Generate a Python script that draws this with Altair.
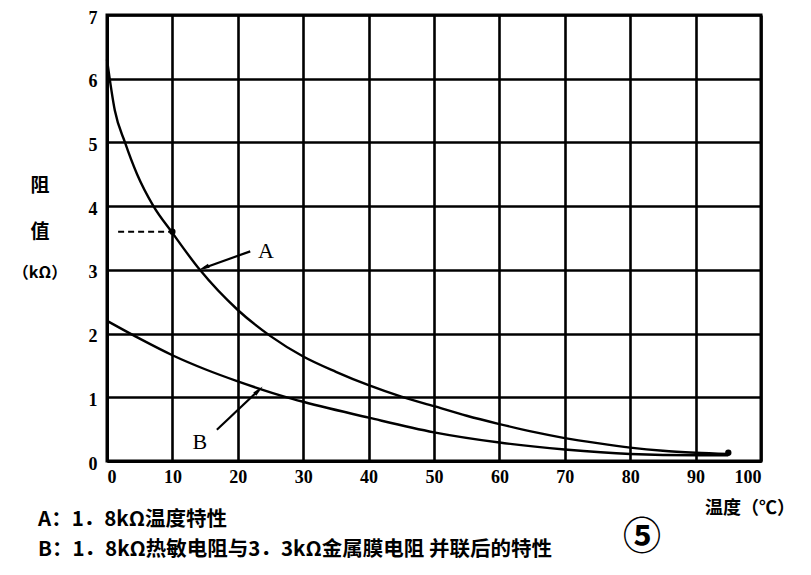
import altair as alt
import pandas as pd

# Curve A: 1.8kΩ thermistor
temp_a = [0, 1.2, 2.75, 4.6, 7.1, 10, 14.2, 20, 25, 30, 35, 40, 45, 50, 55, 60, 65, 70, 75, 80, 85, 90, 95]
res_a = [6.3, 5.5, 5.0, 4.5, 4.0, 3.58, 3.0, 2.37, 1.96, 1.64, 1.4, 1.19, 1.01, 0.86, 0.71, 0.58, 0.46, 0.36, 0.28, 0.21, 0.16, 0.13, 0.11]
# Curve B: thermistor in parallel with 3.3kΩ
temp_b = [0, 5, 10, 15, 20, 27.5, 30, 40, 50, 60, 70, 80, 90, 95]
res_b = [2.2, 1.92, 1.66, 1.44, 1.25, 1.0, 0.93, 0.68, 0.45, 0.29, 0.18, 0.11, 0.09, 0.09]

x_ticks = [0, 10, 20, 30, 40, 50, 60, 70, 80, 90, 100]
y_ticks = [0, 1, 2, 3, 4, 5, 6, 7]

# annotations
dash_x = [1.7, 10]
dash_y = [3.6, 3.6]
dot_x = [10, 95]
dot_y = [3.6, 0.13]
arrow_names = ["A", "B"]
arrow_x = [21.9, 16.8]
arrow_y = [3.29, 0.49]
arrow_x2 = [14.8, 23.2]
arrow_y2 = [3.03, 1.11]
arrow_angle = [247, 46]
label_x = [24.3, 14.2]
label_y = [3.3, 0.3]

W, H = 654, 446
serif = "Liberation Serif"
cjk = "Noto Sans CJK SC"

curves = pd.DataFrame({
    "t": temp_a + temp_b,
    "r": res_a + res_b,
    "s": ["A"] * len(temp_a) + ["B"] * len(temp_b),
})

xs = alt.Scale(domain=[0, 100], nice=False)
ys = alt.Scale(domain=[0, 7], nice=False)

axis_x = alt.Axis(values=x_ticks, title=None, ticks=False, grid=True, gridColor="black",
                  gridWidth=2.6, gridOpacity=1, domainColor="black", domainWidth=3,
                  labelFont=serif, labelFontSize=18, labelFontWeight="bold", labelColor="black",
                  labelPadding=7, format="d")
axis_y = alt.Axis(values=y_ticks, title=None, ticks=False, grid=True, gridColor="black",
                  gridWidth=2.6, gridOpacity=1, domainColor="black", domainWidth=3,
                  labelFont=serif, labelFontSize=18, labelFontWeight="bold", labelColor="black",
                  labelPadding=10, labelOffset=3, format="d")

lines = alt.Chart(curves).mark_line(color="black", strokeWidth=2.4, interpolate="monotone").encode(
    x=alt.X("t:Q", scale=xs, axis=axis_x),
    y=alt.Y("r:Q", scale=ys, axis=axis_y),
    detail="s:N",
)

dash = alt.Chart(pd.DataFrame({"x": dash_x, "y": dash_y})).mark_line(
    color="black", strokeWidth=2, strokeDash=[6, 4]).encode(
    x=alt.X("x:Q", scale=xs), y=alt.Y("y:Q", scale=ys))

dots = alt.Chart(pd.DataFrame({"x": dot_x, "y": dot_y})).mark_circle(
    color="black", opacity=1, size=40).encode(
    x=alt.X("x:Q", scale=xs), y=alt.Y("y:Q", scale=ys))

arr = pd.DataFrame({"n": arrow_names, "x": arrow_x, "y": arrow_y, "x2": arrow_x2,
                    "y2": arrow_y2, "a": arrow_angle, "lx": label_x, "ly": label_y})

arrow_lines = alt.Chart(arr).mark_rule(color="black", strokeWidth=2.2).encode(
    x=alt.X("x:Q", scale=xs), y=alt.Y("y:Q", scale=ys), x2="x2:Q", y2="y2:Q")

heads = alt.Chart(arr).mark_point(
    shape="M0,-1L0.4,1L-0.4,1Z", filled=True, color="black", opacity=1, size=120).encode(
    x=alt.X("x2:Q", scale=xs), y=alt.Y("y2:Q", scale=ys),
    angle=alt.Angle("a:Q", scale=None))

labels = alt.Chart(arr).mark_text(font=serif, fontSize=22, color="black", align="center",
                                  baseline="middle").encode(
    x=alt.X("lx:Q", scale=xs), y=alt.Y("ly:Q", scale=ys), text="n:N")


def txt(s, x, y, size=18, font=cjk, align="left", weight="bold"):
    return alt.Chart(pd.DataFrame({"s": [s]})).mark_text(
        font=font, fontSize=size, fontWeight=weight, color="black", align=align,
        baseline="middle").encode(text="s:N", x=alt.value(x), y=alt.value(y))


ox, oy = 107, 15
extras = [
    txt("阻", 40 - ox, 186 - oy, size=19, align="center"),
    txt("值", 40 - ox, 232 - oy, size=19, align="center"),
    txt("（kΩ）", 40 - ox, 273 - oy, size=16, align="center"),
    txt("温度（℃）", 795 - ox, 509 - oy, size=18, align="right"),
    txt("A：1．8kΩ温度特性", 38 - ox, 520 - oy, size=20.5),
    txt("B：1．8kΩ热敏电阻与3．3kΩ金属膜电阻 并联后的特性", 38 - ox, 550 - oy, size=20.5),
    txt("⑤", 642 - ox, 538 - oy, size=38, font=cjk, align="center", weight="bold"),
]

chart = alt.layer(lines, dash, dots, arrow_lines, heads, labels, *extras).properties(
    width=W, height=H,
    autosize=alt.AutoSizeParams(type="none"),
    padding={"left": ox - 8, "top": oy - 8, "right": 40, "bottom": 105},
    background="white",
).configure_view(stroke="black", strokeWidth=3)

chart.save("out.html", embed_options={"renderer": "svg", "actions": False})
